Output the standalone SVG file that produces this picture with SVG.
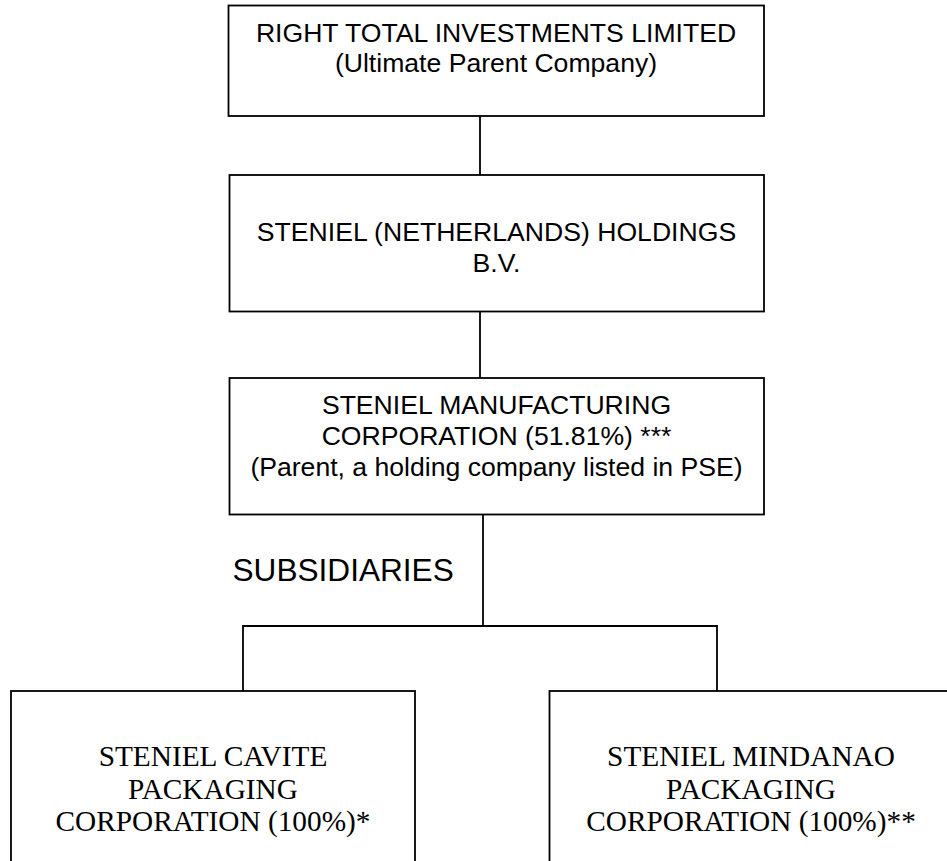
<svg xmlns="http://www.w3.org/2000/svg" width="947" height="861" viewBox="0 0 947 861">
<style>
.box{fill:#fff;stroke:#000;stroke-width:1.8}
.conn{fill:none;stroke:#000;stroke-width:1.8}
.a{font-family:"Liberation Sans",Arial,sans-serif;font-size:26.6px;fill:#000;text-anchor:middle}
.t{font-family:"Liberation Serif","Times New Roman",serif;font-size:29.3px;fill:#000;text-anchor:middle}
.sub{font-family:"Liberation Sans",Arial,sans-serif;font-size:31.6px;fill:#000}
</style>
<rect width="947" height="861" fill="#fff"/>
<g id="connectors">
<line class="conn" x1="480" y1="116" x2="480" y2="175"/>
<line class="conn" x1="480" y1="311.5" x2="480" y2="378"/>
<line class="conn" x1="483" y1="514.5" x2="483" y2="626"/>
<polyline class="conn" points="243,691 243,626 717,626 717,691"/>
</g>
<g id="node-right-total">
<rect class="box" x="228.5" y="5.5" width="535.5" height="110.5"/>
<text class="a" x="496" y="41.5">RIGHT TOTAL INVESTMENTS LIMITED</text>
<text class="a" x="496" y="72">(Ultimate Parent Company)</text>
</g>
<g id="node-netherlands">
<rect class="box" x="229.5" y="175" width="534.5" height="136.5"/>
<text class="a" x="496.5" y="240.7">STENIEL (NETHERLANDS) HOLDINGS</text>
<text class="a" x="496.5" y="271.7">B.V.</text>
</g>
<g id="node-manufacturing">
<rect class="box" x="229.5" y="378" width="534.5" height="136.5"/>
<text class="a" x="496.5" y="414">STENIEL MANUFACTURING</text>
<text class="a" x="496.5" y="445">CORPORATION (51.81%) ***</text>
<text class="a" x="496.5" y="476">(Parent, a holding company listed in PSE)</text>
</g>
<g id="label-subsidiaries">
<text class="sub" x="232.5" y="581">SUBSIDIARIES</text>
</g>
<g id="node-cavite">
<rect class="box" x="11" y="691" width="404" height="180"/>
<text class="t" x="213" y="766">STENIEL CAVITE</text>
<text class="t" x="213" y="798.5">PACKAGING</text>
<text class="t" x="213" y="831">CORPORATION (100%)*</text>
</g>
<g id="node-mindanao">
<rect class="box" x="549.5" y="691" width="403" height="180"/>
<text class="t" x="751" y="766">STENIEL MINDANAO</text>
<text class="t" x="751" y="798.5">PACKAGING</text>
<text class="t" x="751" y="831">CORPORATION (100%)**</text>
</g>
</svg>
